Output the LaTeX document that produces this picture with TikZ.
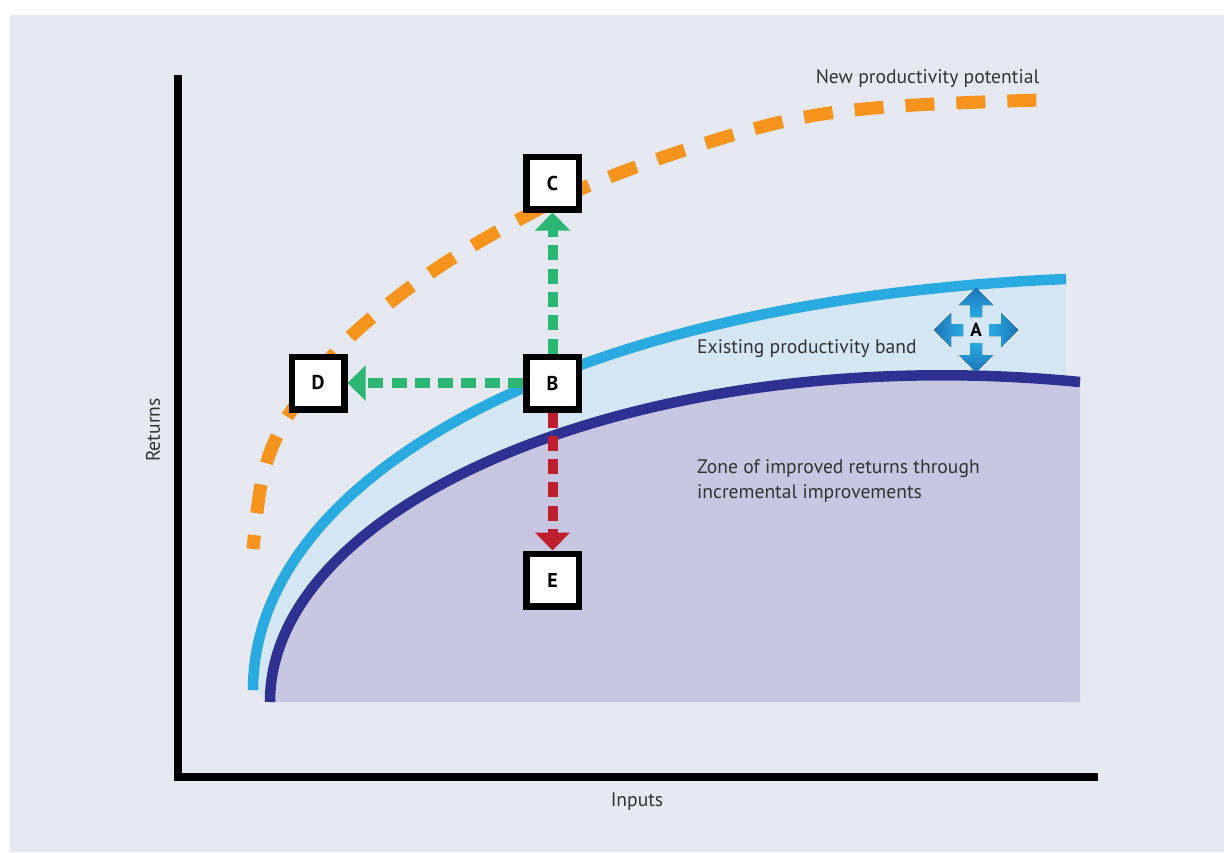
\documentclass[tikz,border=0pt]{standalone}
\usepackage{fontspec}
\setmainfont{PT Sans}
\usetikzlibrary{arrows.meta}
\definecolor{bgc}{HTML}{E6E9F2}
\definecolor{lblue}{HTML}{29ABE2}
\definecolor{dblue}{HTML}{2E3192}
\definecolor{bandfill}{HTML}{D5E6F5}
\definecolor{zonefill}{HTML}{C9C6E2}
\definecolor{orng}{HTML}{F7941D}
\definecolor{grn}{HTML}{2BB673}
\definecolor{rd}{HTML}{BE1E2D}
\definecolor{txt}{HTML}{333333}
\definecolor{adark}{HTML}{1C75BC}
\begin{document}
\begin{tikzpicture}[x=1pt,y=-1pt,
  lbl/.style={font=\fontsize{19.6}{25}\selectfont, text=txt, inner sep=0pt},
  box/.style={draw=black, line width=6.5pt, fill=white, minimum size=52.5pt, inner sep=0pt, font=\bfseries\fontsize{20}{20}\selectfont},
  move/.style={line width=10pt, dash pattern=on 15pt off 8.3pt, -{Triangle[width=34pt,length=18pt]}},
  ]
\useasboundingbox (0,0) rectangle (1224,852);
\fill[white] (0,0) rectangle (1224,852);
\fill[bgc] (10,15) rectangle (1224,852);
% band and zone
\fill[bandfill] (253,690) .. controls (253,480) and (560,300) .. (1066,279) -- (1066,702) -- (270,702) -- cycle;
\fill[zonefill] (270,702) .. controls (270,500) and (650,340) .. (1080,382) -- (1080,702) -- cycle;
\draw[lblue, line width=10.5pt] (253,690) .. controls (253,480) and (560,300) .. (1066,279);
\draw[dblue, line width=10.5pt] (270,702) .. controls (270,500) and (650,340) .. (1080,382);
% new potential
\draw[orng, line width=13pt, dash pattern=on 29pt off 22pt, dash phase=15pt] plot[smooth, tension=0.6] coordinates {(253,549) (262,480) (280,430) (310,385) (350,337) (420,280) (500,230) (590,185) (700,145) (800,118) (900,106) (1040,100)};
% axes
\draw[line width=8pt, line join=miter] (178,75) -- (178,777) -- (1098,777);
% texts
\node[lbl, anchor=base] (newpot) at (927.5,83) {New productivity potential};
\node[lbl, anchor=base west] (band) at (697,353) {Existing productivity band};
\node[lbl, anchor=west, align=left] (zone) at (697,481) {Zone of improved returns through\\incremental improvements};
\node[lbl] (inputs) at (637,802) {Inputs};
\node[lbl, rotate=90] (returns) at (153,430) {Returns};
% boxes
\node[box] (B) at (552.5,383) {B};
\node[box] (C) at (552.5,183) {C};
\node[box] (D) at (318,383) {D};
\node[box] (E) at (552.5,580) {E};
\draw[move, grn] (B.west) -- (D.east);
\draw[move, grn] (B.north) -- (C.south);
\draw[move, rd] (B.south) -- (E.north);
% A
\node[font=\bfseries\fontsize{19}{19}\selectfont, inner sep=0pt] (A) at (976,330) {A};
\begin{scope}[shift={(976,330)}]
\fill[left color=adark, right color=lblue] (-13,-6) -- (-25,-6) -- (-25,-17) -- (-42,0) -- (-25,17) -- (-25,6) -- (-13,6) -- cycle;
\fill[left color=lblue, right color=adark] (13,-6) -- (25,-6) -- (25,-17) -- (42,0) -- (25,17) -- (25,6) -- (13,6) -- cycle;
\fill[top color=adark, bottom color=lblue] (-6,-13) -- (-6,-25) -- (-17,-25) -- (0,-42) -- (17,-25) -- (6,-25) -- (6,-13) -- cycle;
\fill[top color=lblue, bottom color=adark] (-6,13) -- (-6,25) -- (-17,25) -- (0,42) -- (17,25) -- (6,25) -- (6,13) -- cycle;
\end{scope}
\end{tikzpicture}
\end{document}
